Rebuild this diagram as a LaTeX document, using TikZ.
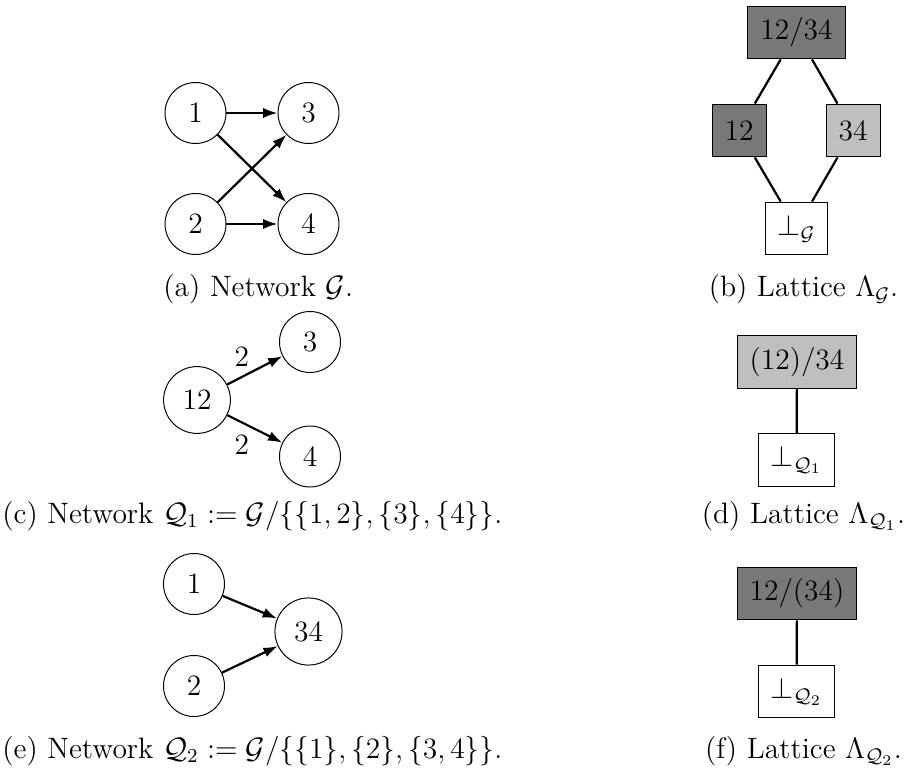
\documentclass[tikz,border=0pt]{standalone}
\usetikzlibrary{arrows.meta}
\begin{document}
\begin{tikzpicture}[x=0.4065pt,y=-0.4065pt,
  net/.style={circle,draw,thin,minimum size=24.8pt,inner sep=4.62pt,font=\large},
  lat/.style={rectangle,draw,thin,minimum height=21.5pt,minimum width=21.5pt,inner xsep=5.1pt,inner ysep=0pt,font=\large},
  dark/.style={fill=black!53},
  light/.style={fill=black!25},
  arr/.style={line width=0.9pt,-{Latex[length=5.8pt,width=4.1pt]}},
  link/.style={line width=0.9pt},
  captxt/.style={font=\large,inner sep=0pt},
  lbl/.style={font=\large,inner sep=0pt}]
\useasboundingbox (0,0) rectangle (904,774);
% (a) network G
\node[net] (a1) at (195.5,113) {1};
\node[net] (a3) at (308.5,113) {3};
\node[net] (a2) at (195.5,224) {2};
\node[net] (a4) at (308.5,224) {4};
\draw[arr] (a1) -- (a3);
\draw[arr] (a1) -- (a4);
\draw[arr] (a2) -- (a3);
\draw[arr] (a2) -- (a4);
\node[captxt,anchor=base west] (capa) at (163,297) {(a) Network $\mathcal{G}$.};
% (b) lattice
\node[lat,dark] (bt) at (796.5,32.5) {12/34};
\node[lat,dark] (bl) at (739,130.5) {12};
\node[lat,light] (br) at (853,130.5) {34};
\node[lat,fill=white] (bb) at (796.5,228.5) {$\bot_{\mathcal{G}}$};
\draw[link] (bt) -- (bl);
\draw[link] (bt) -- (br);
\draw[link] (bl) -- (bb);
\draw[link] (br) -- (bb);
\node[captxt,anchor=base] (capb) at (803.5,297) {(b) Lattice $\Lambda_{\mathcal{G}}$.};
% (c) network Q1
\node[net] (c12) at (197,400) {12};
\node[net] (c3) at (310,342) {3};
\node[net] (c4) at (310,456.5) {4};
\draw[arr] (c12) -- node[lbl,midway,xshift=-5.3pt,yshift=5.5pt] {2} (c3);
\draw[arr] (c12) -- node[lbl,midway,xshift=-5.3pt,yshift=-6.5pt] {2} (c4);
\node[captxt,anchor=base west] (capc) at (2,523) {(c) Network $\mathcal{Q}_1 := \mathcal{G}/\{\{1,2\},\{3\},\{4\}\}$.};
% (d) lattice
\node[lat,light] (dt) at (797,362) {(12)/34};
\node[lat,fill=white] (db) at (796.5,460) {$\bot_{\mathcal{Q}_1}$};
\draw[link] (dt) -- (db);
\node[captxt,anchor=base] (capd) at (803.5,523) {(d) Lattice $\Lambda_{\mathcal{Q}_1}$.};
% (e) network Q2
\node[net] (e1) at (194,584) {1};
\node[net] (e34) at (308.5,631.5) {34};
\node[net] (e2) at (194,686) {2};
\draw[arr] (e1) -- (e34);
\draw[arr] (e2) -- (e34);
\node[captxt,anchor=base west] (cape) at (2,758) {(e) Network $\mathcal{Q}_2 := \mathcal{G}/\{\{1\},\{2\},\{3,4\}\}$.};
% (f) lattice
\node[lat,dark] (ft) at (797,593.5) {12/(34)};
\node[lat,fill=white] (fb) at (796.5,691.5) {$\bot_{\mathcal{Q}_2}$};
\draw[link] (ft) -- (fb);
\node[captxt,anchor=base] (capf) at (803.5,758) {(f) Lattice $\Lambda_{\mathcal{Q}_2}$.};
\end{tikzpicture}
\end{document}
